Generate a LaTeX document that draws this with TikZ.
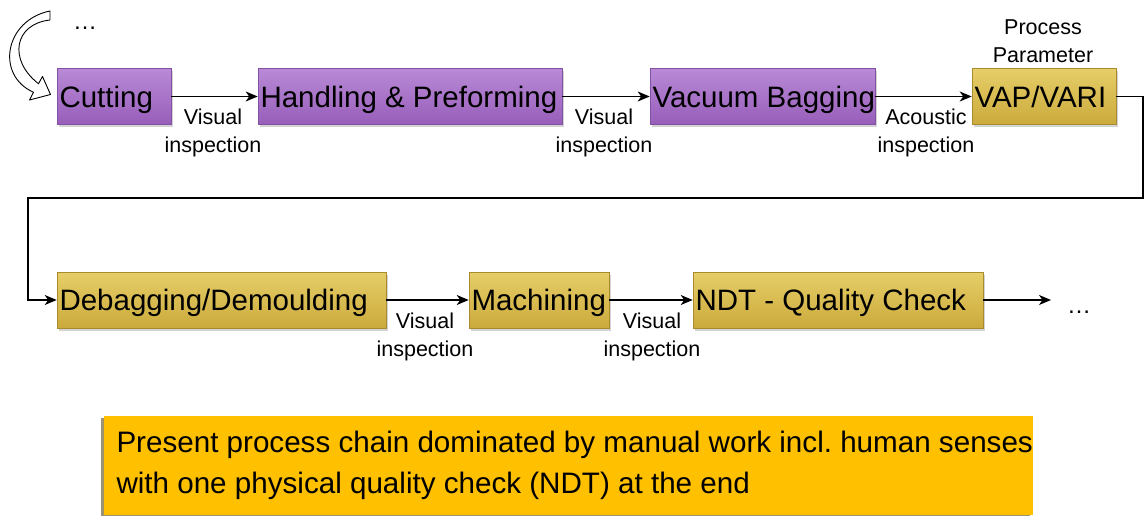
\documentclass[tikz,border=0pt]{standalone}
\usepackage{fontspec}
\setmainfont{Liberation Sans}
\usetikzlibrary{shadows,arrows.meta}
\definecolor{puptop}{HTML}{B88AD6}
\definecolor{pupbot}{HTML}{985EBA}
\definecolor{pupedge}{HTML}{8251A3}
\definecolor{goldtop}{HTML}{E6CE68}
\definecolor{goldbot}{HTML}{CBAA3C}
\definecolor{goldedge}{HTML}{A98B2E}
\definecolor{notefill}{HTML}{FFC000}
\frenchspacing
\tikzset{
  stepbase/.style={minimum height=56pt, inner xsep=2.5pt, inner ysep=0pt,
    text height=21.5pt, text depth=0pt,
    font=\fontsize{29.5}{32}\selectfont, line width=0.6pt,
    drop shadow={opacity=0.35, shadow xshift=1.5pt, shadow yshift=-2.5pt}},
  purplebox/.style={stepbase, top color=puptop, bottom color=pupbot, draw=pupedge},
  goldbox/.style={stepbase, top color=goldtop, bottom color=goldbot, draw=goldedge},
  lab/.style={align=center, font=\fontsize{21.5}{28}\selectfont, inner sep=0pt},
  flow/.style={line width=1.3pt, -{Stealth[length=12pt,width=10pt,inset=3.5pt]}},
  loopline/.style={line width=1.2pt, -{Stealth[length=12pt,width=10pt,inset=3.5pt]}}
}
\newcommand{\boxtext}[2]{\makebox[#1][l]{#2}}
\begin{document}
\begin{tikzpicture}[x=1pt,y=-1pt]
\useasboundingbox (0,0) rectangle (1145,516);
% curved hollow arrow at top left
\draw[fill=white, line width=0.9pt, line join=round]
  (50,11) .. controls (5,20) and (-5,75) .. (33.5,92.3) -- (29.5,100) -- (50.5,94.5) -- (42.5,76.5) -- (38.5,83.7)
  .. controls (8,60) and (14,24) .. (50,20) -- cycle;
\node[font=\fontsize{24}{28}\selectfont, inner sep=0pt] (topdots) at (85,28) {\dots};
% row 1
\node[purplebox] (cut) at (114,96.5) {\boxtext{109pt}{Cutting}};
\node[purplebox] (hp) at (410,96.5) {\boxtext{299pt}{Handling \& Preforming}};
\node[purplebox] (vb) at (762.5,96.5) {\boxtext{220pt}{Vacuum Bagging}};
\node[goldbox] (vap) at (1044,96.5) {\boxtext{139pt}{VAP/VARI}};
\node[lab] (pp) at (1043,41) {Process\\Parameter};
% row 2
\node[goldbox] (deb) at (221.5,300) {\boxtext{324pt}{Debagging/Demoulding}};
\node[goldbox] (mach) at (539,300) {\boxtext{135pt}{Machining}};
\node[goldbox] (ndt) at (838,300) {\boxtext{285pt}{NDT - Quality Check}};
% connectors
\draw[flow] (cut) -- (hp);
\draw[flow] (hp) -- (vb);
\draw[flow] (vb) -- (vap);
\coordinate (c1) at (1143,198);
\coordinate (c2) at (28,198);
\draw[loopline] (vap.east) -| (c1) -- (c2) |- (deb.west);
\draw[flow] (deb) -- (mach);
\draw[flow] (mach) -- (ndt);
\coordinate (endpt) at (1051,300);
\draw[flow] (ndt.east) -- (endpt);
\node[font=\fontsize{24}{28}\selectfont, inner sep=0pt] (enddots) at (1079,312) {\dots};
% labels
\node[lab] (l1) at (213,133) {Visual\\inspection};
\node[lab] (l2) at (604,133) {Visual\\inspection};
\node[lab] (l3) at (926,133) {Acoustic\\inspection};
\node[lab] (l4) at (425,337) {Visual\\inspection};
\node[lab] (l5) at (652,337) {Visual\\inspection};
% note
\node[fill=notefill, minimum height=99pt, inner xsep=13pt, inner ysep=0pt,
  align=left, font=\fontsize{29.6}{41}\selectfont,
  drop shadow={opacity=0.55, shadow xshift=-2.5pt, shadow yshift=-2.5pt, fill=black!70!notefill}]
  (note) at (568,465) {\makebox[903pt][l]{Present process chain dominated by manual work incl. human senses}\\\makebox[903pt][l]{with one physical quality check (NDT) at the end}};
\end{tikzpicture}
\end{document}
